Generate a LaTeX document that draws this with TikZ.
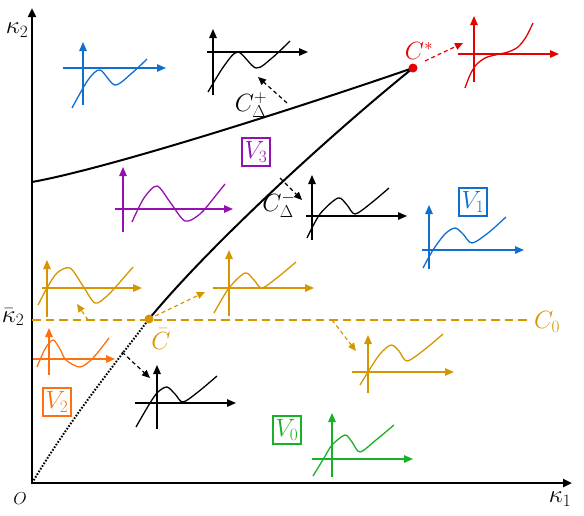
\documentclass[tikz,border=0pt]{standalone}
\usetikzlibrary{arrows.meta}
\definecolor{cgold}{RGB}{214,150,0}
\definecolor{corange}{RGB}{255,112,16}
\definecolor{cblue}{RGB}{16,110,206}
\definecolor{cgreen}{RGB}{24,178,40}
\definecolor{cpurple}{RGB}{148,16,176}
\definecolor{cred}{RGB}{232,0,0}
\tikzset{
  mainax/.style={line width=2.6pt, -{Triangle[length=9pt,width=8pt]}},
  ax/.style={line width=1.3pt, -{Triangle[length=9pt,width=7.5pt]}},
  crv/.style={line width=1.3pt},
  bigcurve/.style={line width=2pt},
  dotline/.style={line width=2pt, dash pattern=on 1.6pt off 1.6pt},
  c0line/.style={line width=2.4pt, dash pattern=on 8.5pt off 5pt},
  darr/.style={line width=1.2pt, dash pattern=on 4pt off 3pt, -{Triangle[length=8pt,width=7pt]}},
  lbl/.style={font=\fontsize{23}{27}\selectfont, inner sep=0pt},
  vbox/.style={draw, line width=1.2pt, minimum width=28pt, minimum height=28pt, inner sep=1pt, font=\fontsize{24}{28}\selectfont}
}
\begin{document}
\begin{tikzpicture}[x=1pt,y=-1pt]
\useasboundingbox (0,0) rectangle (584,515);
% main axes
\coordinate (O) at (32,483);
\coordinate (Xend) at (572,483);
\coordinate (Yend) at (32,8);
\draw[mainax] (30.7,483) -- (Xend);
\draw[mainax] (32,484.3) -- (Yend);
\node[lbl] (k2) at (17,30) {$\kappa_2$};
\node[lbl] (k1) at (560,499) {$\kappa_1$};
\node[lbl, font=\fontsize{18}{21}\selectfont] (o) at (20,499) {$O$};
\node[lbl] (k2bar) at (13,317) {$\bar\kappa_2$};
% special points
\coordinate (Cbar) at (149,319);
\coordinate (Cstar) at (413,68);
% boundary curves
\draw[bigcurve] (32,182) .. controls (110,168) and (300,107) .. (Cstar);
\draw[bigcurve] (Cbar) .. controls (210,245) and (330,135) .. (Cstar);
\draw[dotline] (O) .. controls (70,420) and (110,370) .. (Cbar);
\draw[cgold, c0line] (32,320) -- (527,320);
\node[lbl, text=cgold] (C0) at (547,322) {$C_0$};
\fill[cgold] (Cbar) circle (4.5);
\fill[cred] (Cstar) circle (4.5);
\node[lbl, text=cgold] (Cbarl) at (161,339) {$\bar C$};
\node[lbl, text=cred] (Cstarl) at (419,51) {$C^*$};
\node[lbl] (CDp) at (251,105) {$C_\Delta^+$};
\node[lbl] (CDm) at (279,205) {$C_\Delta^-$};
% region labels
\node[vbox, cpurple] (V3) at (256,152) {$V_3$};
\node[vbox, cblue] (V1) at (473,202) {$V_1$};
\node[vbox, corange] (V2) at (57,402) {$V_2$};
\node[vbox, cgreen] (V0) at (287,430) {$V_0$};
% A blue top-left
\draw[ax,cblue] (63,68) -- (166,68);
\draw[ax,cblue] (83,105) -- (83,42);
\draw[crv,cblue] plot[smooth] coordinates {(72,108) (88,80) (100,70) (115,85) (132,73) (147,59)};
% B black top middle
\draw[ax] (207,52) -- (308,52);
\draw[ax] (213,95) -- (213,29);
\draw[crv] plot[smooth] coordinates {(208,92) (224,66) (238,52) (256,68) (272,58) (290,41)};
% C red
\draw[ax,cred] (458,54) -- (559,54);
\draw[ax,cred] (474,82) -- (474,16);
\draw[crv,cred] plot[smooth] coordinates {(465,88) (470,75) (476,65) (485,58) (495,55) (508,52) (518,47) (526,37) (533,23)};
% D purple
\draw[ax,cpurple] (115,209) -- (233,209);
\draw[ax,cpurple] (123,232) -- (123,167);
\draw[crv,cpurple] plot[smooth] coordinates {(132,222) (144,198) (157,186) (170,202) (185,221) (200,214) (213,199) (225,184)};
% E black
\draw[ax] (306,216) -- (407,216);
\draw[ax] (312,240) -- (312,175);
\draw[crv] plot[smooth] coordinates {(307,238) (320,214) (338,198) (347,205) (355,214) (370,204) (389,188)};
% F blue
\draw[ax,cblue] (422,250) -- (524,250);
\draw[ax,cblue] (429,269) -- (429,205);
\draw[crv,cblue] plot[smooth] coordinates {(423,268) (433,250) (445,234) (455,228) (463,234) (472,243) (488,233) (506,217)};
% G gold left
\draw[ax,cgold] (42,288) -- (142,288);
\draw[ax,cgold] (47,317) -- (47,260);
\draw[crv,cgold] plot[smooth] coordinates {(38,305) (47,288) (57,273) (70,268) (83,286) (95,303) (107,296) (120,282) (133,267)};
% H orange
\draw[ax,corange] (33,359) -- (115,359);
\draw[ax,corange] (49,375) -- (49,328);
\draw[crv,corange] plot[smooth] coordinates {(37,367) (45,349) (53,340) (60,349) (66,360) (80,367) (93,358) (109,338)};
% I black bottom
\draw[ax] (135,403) -- (236,403);
\draw[ax] (157,429) -- (157,365);
\draw[crv] plot[smooth] coordinates {(136,427) (150,403) (158,392) (167,387) (175,394) (183,402) (198,392) (217,376)};
% J gold middle
\draw[ax,cgold] (213,288) -- (314,288);
\draw[ax,cgold] (229,316) -- (229,250);
\draw[crv,cgold] plot[smooth] coordinates {(214,313) (229,288) (245,273) (254,280) (262,288) (278,277) (296,262)};
% K gold right
\draw[ax,cgold] (352,372) -- (454,372);
\draw[ax,cgold] (368,393) -- (368,335);
\draw[crv,cgold] plot[smooth] coordinates {(360,385) (368,372) (380,354) (391,345) (399,351) (407,361) (424,350) (443,334)};
% L green
\draw[ax,cgreen] (312,459) -- (413,459);
\draw[ax,cgreen] (332,477) -- (332,413);
\draw[crv,cgreen] plot[smooth] coordinates {(313,476) (324,458) (332,445) (345,435) (352,442) (360,452) (376,440) (394,425)};
% dashed arrows
\coordinate (a1s) at (287,103); \coordinate (a1e) at (258,77);
\draw[darr] (a1s) -- (a1e);
\coordinate (a2s) at (280,178); \coordinate (a2e) at (302,200);
\draw[darr] (a2s) -- (a2e);
\coordinate (a3s) at (425,61); \coordinate (a3e) at (463,43);
\draw[darr,cred] (a3s) -- (a3e);
\coordinate (a4s) at (88,320); \coordinate (a4e) at (77,304);
\draw[darr,cgold] (a4s) -- (a4e);
\coordinate (a5e) at (205,292);
\draw[darr,cgold] (Cbar) -- (a5e);
\coordinate (a6s) at (332,320); \coordinate (a6e) at (356,351);
\draw[darr,cgold] (a6s) -- (a6e);
\coordinate (a7s) at (122,352); \coordinate (a7e) at (150,378);
\draw[darr] (a7s) -- (a7e);
\end{tikzpicture}
\end{document}
